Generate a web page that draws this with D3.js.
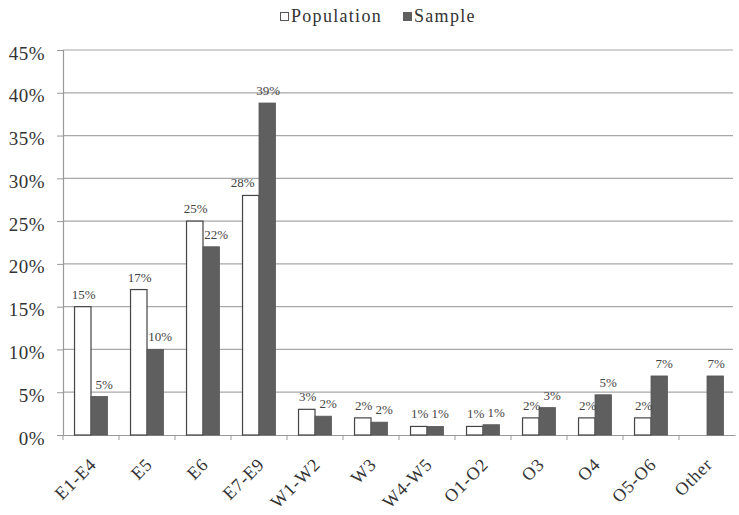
<!DOCTYPE html>
<html><head><meta charset="utf-8">
<script src="https://cdn.jsdelivr.net/npm/d3@7"></script>
<style>body{margin:0;background:#fff}svg{display:block}svg text{font-family:"Liberation Serif","DejaVu Serif",serif}</style>
</head><body><svg id="c" width="739" height="515"></svg>
<script>
const categories = ["E1-E4","E5","E6","E7-E9","W1-W2","W3","W4-W5","O1-O2","O3","O4","O5-O6","Other"];
const population = [15,17,25,28,3,2,1,1,2,2,2,0];
const sample = [4.5,10,22,38.8,2.2,1.5,1.0,1.2,3.2,4.7,6.9,6.9];
const populationLabels = ["15%","17%","25%","28%","3%","2%","1%","1%","2%","2%","2%",""];
const sampleLabels = ["5%","10%","22%","39%","2%","2%","1%","1%","3%","5%","7%","7%"];
const yTicks = [0,5,10,15,20,25,30,35,40,45];
const seriesNames = ["Population","Sample"];

const svg = d3.select("#c");
const left = 63;
const x = d3.scaleBand().domain(categories).range([left, 735]).paddingInner(0).paddingOuter(0);
const y = d3.scaleLinear().domain([0,45]).range([435, 50]);
const sub = d3.scaleBand().domain(seriesNames).range([0, x.bandwidth()]).paddingInner(0).paddingOuter(0.7);

// gridlines
svg.append("g").selectAll("line").data(yTicks.filter(d=>d>0)).join("line")
  .attr("x1", left).attr("x2", 733).attr("y1", d=>y(d)).attr("y2", d=>y(d))
  .attr("stroke", "#a8a8a8").attr("stroke-width", 1.2);

// y axis
const ya = svg.append("g").attr("transform", `translate(${left},0)`)
  .call(d3.axisLeft(y).tickValues(yTicks).tickFormat(d=>d+"%").tickSize(6).tickPadding(12));
ya.select(".domain").attr("stroke","#999").attr("stroke-width",1.2);
ya.selectAll(".tick line").attr("stroke","#999");
ya.selectAll("text").attr("font-size", 19).attr("letter-spacing", 0.5).attr("fill","#333").attr("y", 3);

// x axis
const xa = svg.append("g").attr("transform", `translate(0,${y(0)})`)
  .call(d3.axisBottom(x).tickSize(0).tickPadding(0));
xa.select(".domain").attr("stroke","#999").attr("stroke-width",1.2);
svg.append("g").selectAll("line").data(categories).join("line")
  .attr("x1", d=>x(d)).attr("x2", d=>x(d)).attr("y1", y(0)).attr("y2", y(0)+5)
  .attr("stroke","#999");
xa.selectAll("text").attr("font-size", 18).attr("letter-spacing", 0.8).attr("fill","#333")
  .attr("text-anchor","end").attr("x",0).attr("y",0).attr("dy","0.35em")
  .attr("transform","translate(2,26) rotate(-45)");

// bars
const g = svg.append("g");
g.selectAll("rect.pop").data(categories).join("rect").attr("class","pop")
  .attr("x", d=>x(d)+sub("Population")).attr("width", sub.bandwidth())
  .attr("y", (d,i)=>y(population[i])).attr("height", (d,i)=>y(0)-y(population[i]))
  .attr("fill","#fff").attr("stroke","#444").attr("stroke-width",1.2)
  .attr("display",(d,i)=>population[i]>0?null:"none");
g.selectAll("rect.smp").data(categories).join("rect").attr("class","smp")
  .attr("x", d=>x(d)+sub("Sample")).attr("width", sub.bandwidth())
  .attr("y", (d,i)=>y(sample[i])).attr("height", (d,i)=>y(0)-y(sample[i]))
  .attr("fill","#5f5f5f").attr("stroke","#555").attr("stroke-width",0.8);

// labels (nudged sideways to avoid the neighbouring bar, like the original)
const bigGap = i => sample[i] > population[i] + 5;
g.selectAll("text.pl").data(categories).join("text").attr("class","pl")
  .attr("x", (d,i)=>x(d)+sub("Population")+sub.bandwidth()/2 + (bigGap(i) ? -8 : 1))
  .attr("y", (d,i)=>y(population[i]) - 8)
  .attr("text-anchor","middle").attr("font-size",13).attr("fill","#444")
  .text((d,i)=>populationLabels[i]);
g.selectAll("text.sl").data(categories).join("text").attr("class","sl")
  .attr("x", (d,i)=>x(d)+sub("Sample")+sub.bandwidth()/2 + (bigGap(i) ? 1 : 5))
  .attr("y", (d,i)=>y(sample[i]) - 8)
  .attr("text-anchor","middle").attr("font-size",13).attr("fill","#444")
  .text((d,i)=>sampleLabels[i]);

// legend
const lg = svg.append("g").attr("font-size",18).attr("letter-spacing",1.3).attr("fill","#333");
lg.append("rect").attr("x",280.5).attr("y",12.5).attr("width",8).attr("height",8).attr("fill","#fff").attr("stroke","#555");
lg.append("text").attr("x",291).attr("y",22).text(seriesNames[0]);
lg.append("rect").attr("x",403).attr("y",12).attr("width",9).attr("height",9).attr("fill","#5f5f5f");
lg.append("text").attr("x",414).attr("y",22).text(seriesNames[1]);
</script></body></html>
